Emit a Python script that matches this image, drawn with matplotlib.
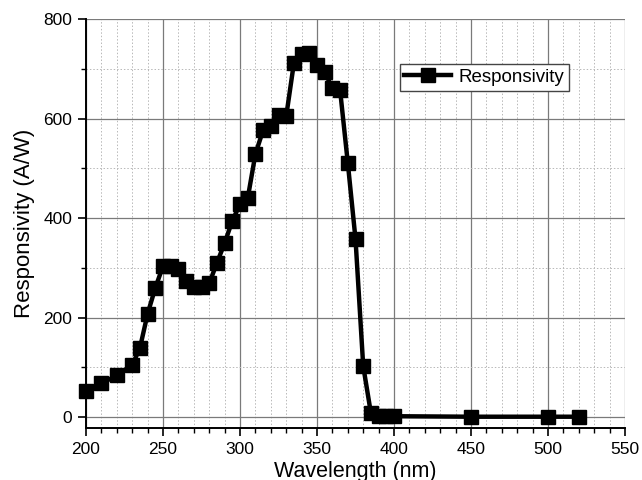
import matplotlib
matplotlib.use("Agg")
import matplotlib.pyplot as plt
from matplotlib.ticker import MultipleLocator

# -------------------- data --------------------
wavelength = [200, 210, 220, 230, 235, 240, 245, 250, 255, 260, 265, 270, 275,
              280, 285, 290, 295, 300, 305, 310, 315, 320, 325, 330, 335, 340,
              345, 350, 355, 360, 365, 370, 375, 380, 385, 390, 395, 400,
              450, 500, 520]
responsivity = [52, 68, 84, 105, 139, 208, 260, 304, 304, 297, 274, 261, 261,
                269, 310, 350, 395, 428, 440, 529, 577, 585, 607, 605, 712, 730,
                732, 708, 694, 661, 657, 511, 358, 103, 8, 2, 2, 2,
                1, 1, 1]
SERIES_LABEL = "Responsivity"
X_LABEL = "Wavelength (nm)"
Y_LABEL = "Responsivity (A/W)"
# ----------------------------------------------

plt.rcParams['font.family'] = ['Liberation Sans', 'DejaVu Sans']

fig = plt.figure(figsize=(6.42, 4.8), dpi=100)
ax = fig.add_axes([0.134, 0.108, 0.8395, 0.852])

ax.plot(wavelength, responsivity, color="black", lw=3.2,
        marker="s", markersize=9.5, markerfacecolor="black",
        markeredgecolor="black", label=SERIES_LABEL, zorder=3, clip_on=False)

ax.set_xlim(200, 550)
ax.set_ylim(-22, 800)
ax.xaxis.set_major_locator(MultipleLocator(50))
ax.xaxis.set_minor_locator(MultipleLocator(10))
ax.yaxis.set_major_locator(MultipleLocator(200))
ax.yaxis.set_minor_locator(MultipleLocator(100))

ax.grid(which="major", color="#7a7a7a", lw=0.9, ls="-")
ax.grid(which="minor", color="#b8b8b8", lw=0.7, ls=(0, (1.5, 2)))
ax.set_axisbelow(True)

ax.tick_params(which="major", direction="out", length=6, width=1.2,
               labelsize=12.5, colors="black", pad=4)
ax.tick_params(which="minor", direction="out", length=3.5, width=1.0)

for s in ("top", "right"):
    ax.spines[s].set_visible(False)
for s in ("left", "bottom"):
    ax.spines[s].set_linewidth(1.4)

ax.set_xlabel(X_LABEL, fontsize=15.5, labelpad=3)
ax.set_ylabel(Y_LABEL, fontsize=16, labelpad=6)

leg = ax.legend(loc="upper left", bbox_to_anchor=(0.582, 0.89),
                fontsize=13.5, frameon=True, fancybox=False,
                handlelength=2.5, borderpad=0.25, handletextpad=0.4,
                borderaxespad=0)
leg.get_frame().set_edgecolor("#444444")
leg.get_frame().set_linewidth(1.0)
leg.get_frame().set_alpha(1)

fig.savefig("out.png", dpi=100)
